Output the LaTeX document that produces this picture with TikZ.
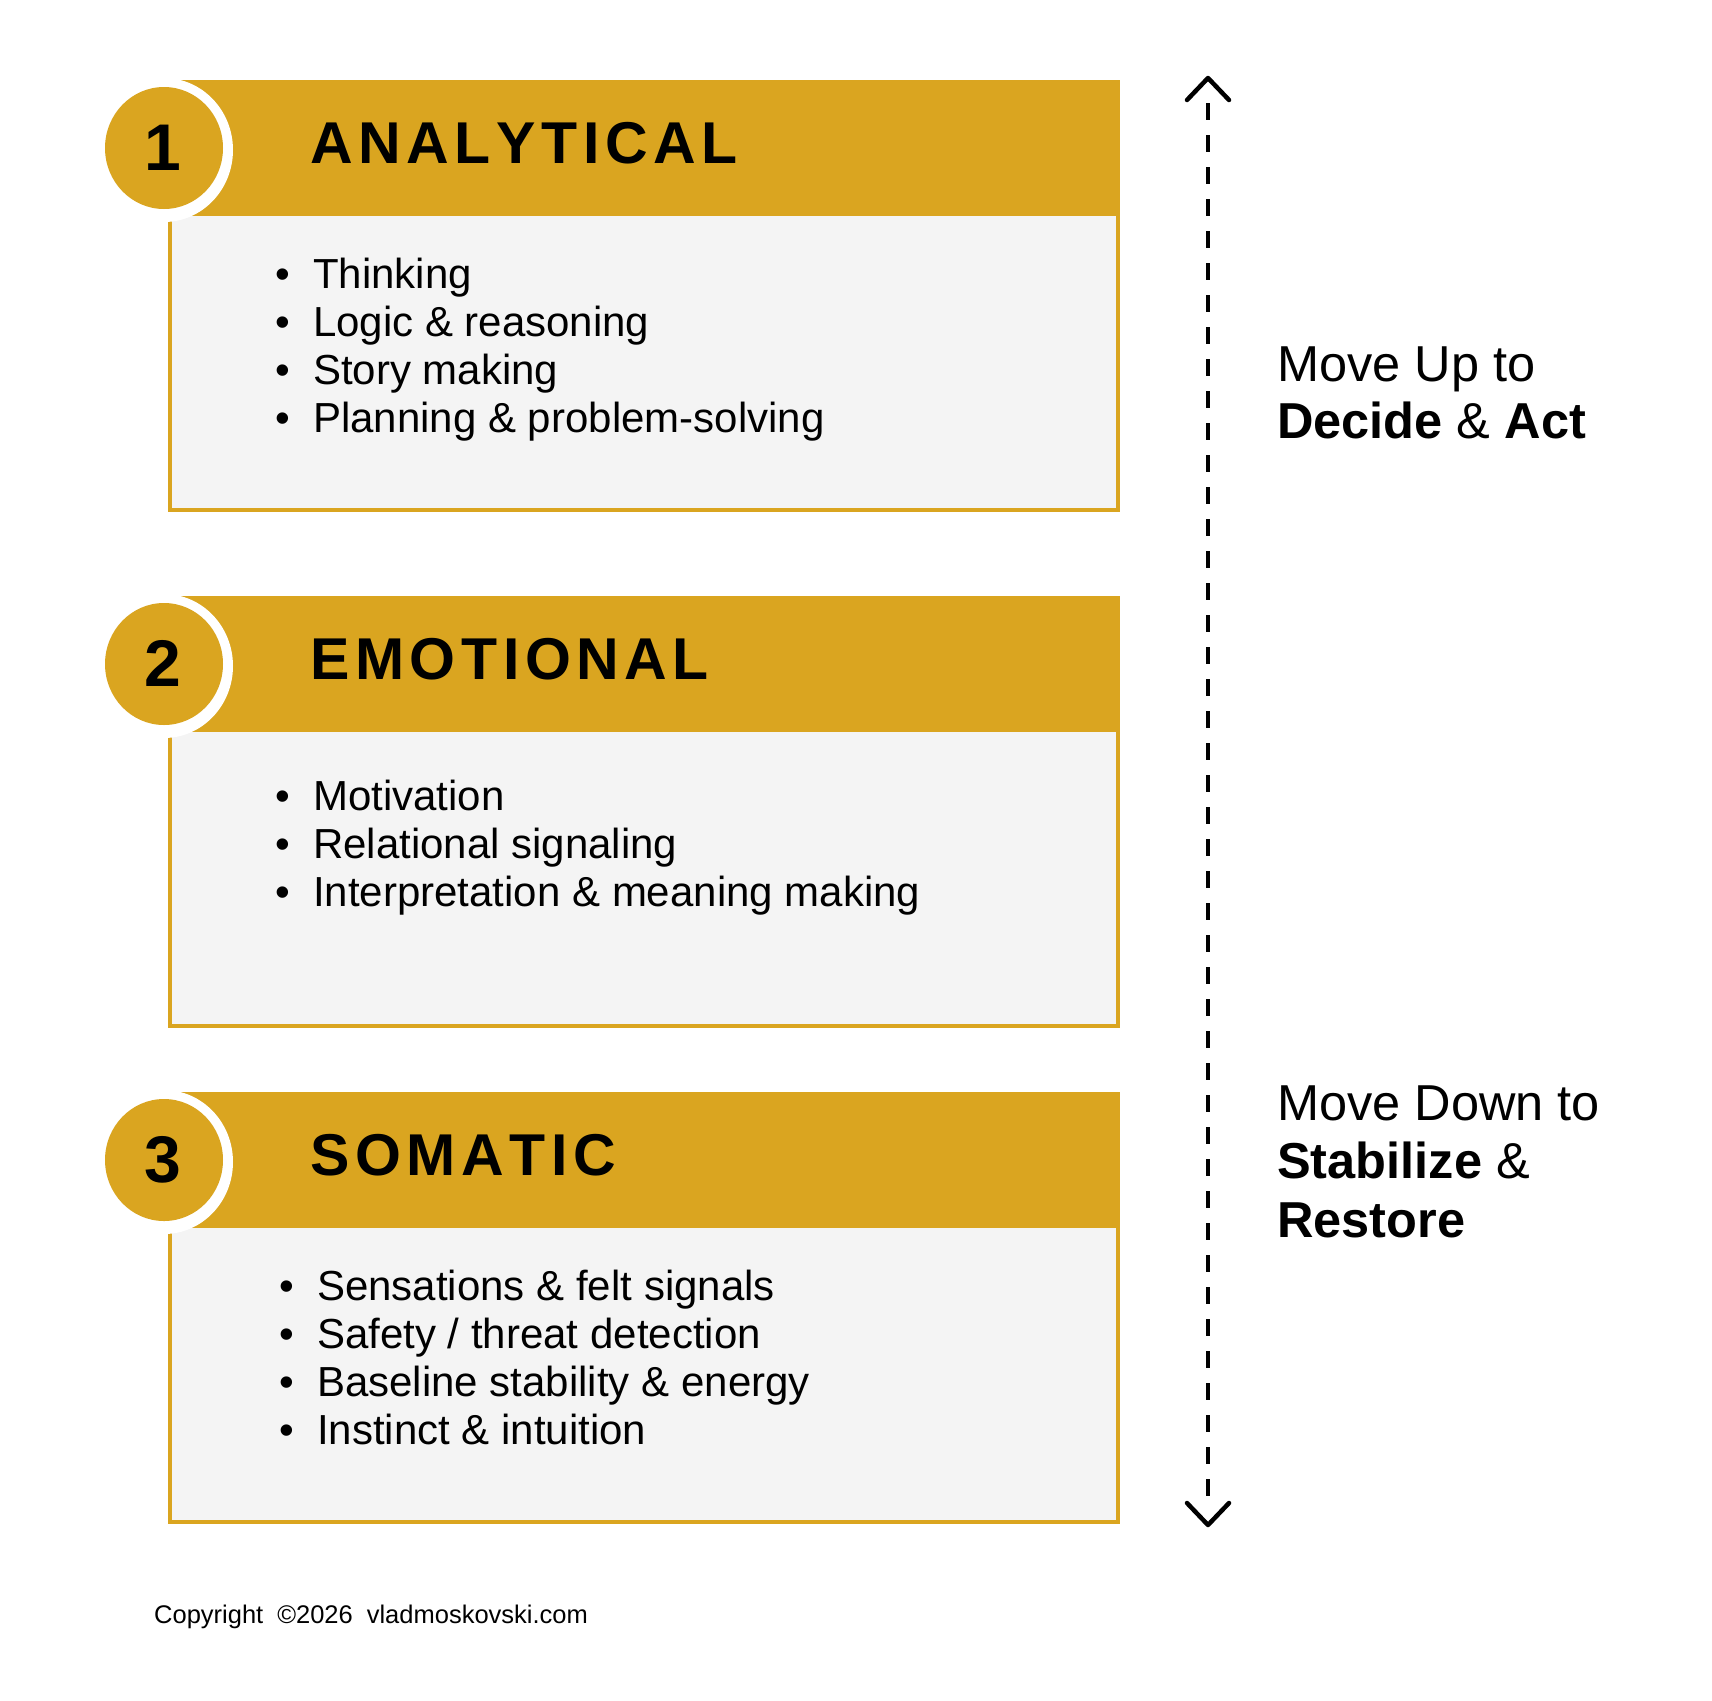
\documentclass[tikz,border=0pt]{standalone}
\usepackage{fontspec}
\setmainfont{Liberation Sans}
\definecolor{gold}{HTML}{DAA520}
\definecolor{panel}{HTML}{F4F4F4}
\ExplSyntaxOn
\tl_new:N \l_trk_tl
\NewDocumentCommand\trk{O{5.6pt}m}{\tl_set:Nx \l_trk_tl {#2}\tl_map_inline:Nn \l_trk_tl {##1\kern#1}\unkern}
\ExplSyntaxOff
\newcommand\bul{\makebox[38pt][l]{\textbullet}}
\tikzset{
  headerbar/.style={fill=gold},
  bodybox/.style={fill=panel, draw=gold, line width=4pt},
  ring/.style={fill=white},
  badge/.style={fill=gold},
  numtxt/.style={font=\fontsize{66}{66}\selectfont\bfseries, anchor=base, inner sep=0pt},
  titletxt/.style={font=\fontsize{59}{59}\selectfont\bfseries, anchor=base west, inner sep=0pt},
  itemtxt/.style={font=\fontsize{42}{48}\selectfont, anchor=base west, inner sep=0pt},
  sidetxt/.style={font=\fontsize{50.5}{58}\selectfont, anchor=base west, inner sep=0pt},
  chev/.style={line width=4.5pt, line cap=round, line join=round},
  dashline/.style={line width=4.5pt, dash pattern=on 17pt off 15pt},
  smalltxt/.style={font=\fontsize{25.5}{28}\selectfont, anchor=base west, inner sep=0pt}
}
\begin{document}
\begin{tikzpicture}[x=1pt,y=-1pt]
\fill[white] (0,0) rectangle (1712,1700);
\useasboundingbox (0,0) rectangle (1712,1700);

\foreach \oy/\n/\t in {0/1/ANALYTICAL, 516/2/EMOTIONAL, 1012/3/SOMATIC}{
  \draw[bodybox] (170,214+\oy) rectangle (1118,510+\oy);
  \fill[headerbar] (168,80+\oy) rectangle (1120,216+\oy);
  \fill[ring] (164,150+\oy) ellipse[x radius=69pt, y radius=72pt];
  \fill[badge] (164,148+\oy) ellipse[x radius=59pt, y radius=61pt];
  \node[numtxt] (num\n) at (163,170+\oy) {\n};
  \node[titletxt] (title\n) at (310,163+\oy) {\trk{\t}};
}

% Box 1 items
\node[itemtxt] (a1) at (275,288) {\bul Thinking};
\node[itemtxt] (a2) at (275,336) {\bul Logic \& reasoning};
\node[itemtxt] (a3) at (275,384) {\bul Story making};
\node[itemtxt] (a4) at (275,432) {\bul Planning \& problem-solving};
% Box 2 items
\node[itemtxt] (b1) at (275,810) {\bul Motivation};
\node[itemtxt] (b2) at (275,858) {\bul Relational signaling};
\node[itemtxt] (b3) at (275,906) {\bul Interpretation \& meaning making};
% Box 3 items
\node[itemtxt] (c1) at (279,1300) {\bul Sensations \& felt signals};
\node[itemtxt] (c2) at (279,1348) {\bul Safety / threat detection};
\node[itemtxt] (c3) at (279,1396) {\bul Baseline stability \& energy};
\node[itemtxt] (c4) at (279,1444) {\bul Instinct \& intuition};

% Vertical arrow
\coordinate (uptip) at (1208,78);
\coordinate (dntip) at (1208,1525);
\draw[dashline] ([yshift=-25pt]uptip) -- ([yshift=26pt]dntip);
\draw[chev] (uptip) ++(-21,22) -- (uptip) -- ++(21,22);
\draw[chev] (dntip) ++(-21,-22) -- (dntip) -- ++(21,-22);

% Side labels
\node[sidetxt] (up1) at (1277,381) {Move Up to};
\node[sidetxt] (up2) at (1277,438) {\textbf{Decide} \& \textbf{Act}};
\node[sidetxt] (dn1) at (1277,1120) {Move Down to};
\node[sidetxt] (dn2) at (1277,1178) {\textbf{Stabilize} \&};
\node[sidetxt] (dn3) at (1277,1237) {\textbf{Restore}};

% Footer
\node[smalltxt] (copy) at (154,1623) {Copyright\hspace{14pt}©2026\hspace{14pt}vladmoskovski.com};
\end{tikzpicture}
\end{document}
